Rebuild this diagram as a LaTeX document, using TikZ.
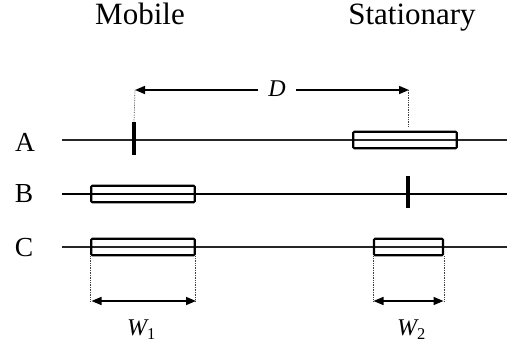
\documentclass[tikz,border=0pt]{standalone}
\usepackage{fontspec}
\setmainfont{Liberation Serif}
\usetikzlibrary{arrows.meta}
\begin{document}
\begin{tikzpicture}[x=1pt,y=-1pt,
  heading/.style={anchor=base, inner sep=0pt, font=\fontsize{31}{31}\selectfont},
  rowlabel/.style={anchor=base, inner sep=0pt, font=\fontsize{27.5}{27.5}\selectfont},
  axis/.style={line width=1.5pt, black!85},
  slot/.style={rectangle, draw, line width=2.1pt, rounded corners=1pt,
               minimum height=16.5pt, inner sep=0pt},
  tickmark/.style={line width=3.2pt},
  guide/.style={densely dotted, line width=0.7pt, black!75},
  dimone/.style={line width=1.5pt, -{Triangle[length=10pt,width=8pt]}},
  dimtwo/.style={line width=1.5pt, {Triangle[length=10pt,width=8pt]}-{Triangle[length=10pt,width=8pt]}},
  sym/.style={inner sep=0pt, font=\fontsize{24}{24}\selectfont\itshape},
]
\useasboundingbox (0,0) rectangle (508,347);

% column headings
\node[heading] (mob) at (140,25) {Mobile};
\node[heading] (sta) at (412,25) {Stationary};

% row labels
\node[rowlabel] (la) at (25,152) {A};
\node[rowlabel] (lb) at (24,203) {B};
\node[rowlabel] (lc) at (24,256) {C};

% horizontal tracks
\coordinate (a0) at (62,140);  \coordinate (a1) at (507,140);
\coordinate (b0) at (62,194);  \coordinate (b1) at (507,194);
\coordinate (c0) at (62,247);  \coordinate (c1) at (507,247);
\draw[axis] (a0) -- (a1);
\draw[axis, black] (b0) -- (b1);
\draw[axis] (c0) -- (c1);

% row A: point object and extended object
\coordinate (ta1) at (134,122); \coordinate (ta2) at (134,155);
\draw[tickmark] (ta1) -- (ta2);
\node[slot, minimum width=103.5pt] (boxA) at (405,140) {};

% row B
\node[slot, minimum width=103.5pt] (boxB) at (143,194) {};
\coordinate (tb1) at (408,176); \coordinate (tb2) at (408,208);
\draw[tickmark] (tb1) -- (tb2);

% row C
\node[slot, minimum width=103.5pt] (boxC1) at (143,247) {};
\node[slot, minimum width=69pt] (boxC2) at (408.5,247) {};

% distance D
\node[sym, inner xsep=10pt, anchor=base] (D) at (277,97) {D};
\coordinate (dL) at (135,90);
\coordinate (dR) at (409,90);
\coordinate (gA) at (408,127);
\draw[dimone] (D.west |- dL) -- (dL);
\draw[dimone] (D.east |- dR) -- (dR);
\draw[guide] (dL) -- (ta1);
\draw[guide] (gA |- dR) -- (gA);

% widths W1 and W2
\coordinate (w1L) at (91.5,301); \coordinate (w1R) at (196,301);
\coordinate (w2L) at (373.5,301); \coordinate (w2R) at (443.5,301);
\draw[guide] (boxC1.south west) -- (boxC1.south west |- w1L);
\draw[guide] (boxC1.south east) -- (boxC1.south east |- w1R);
\draw[guide] (boxC2.south west) -- (boxC2.south west |- w2L);
\draw[guide] (boxC2.south east) -- (boxC2.south east |- w2R);
\draw[dimtwo] (w1L) -- (w1R);
\draw[dimtwo] (w2L) -- (w2R);
\node[sym, anchor=base west] (W1) at (127,335) {W\raisebox{-4pt}{\upshape\fontsize{16.5}{16.5}\selectfont 1}};
\node[sym, anchor=base west] (W2) at (397,335) {W\raisebox{-4pt}{\upshape\fontsize{16.5}{16.5}\selectfont 2}};
\end{tikzpicture}
\end{document}
